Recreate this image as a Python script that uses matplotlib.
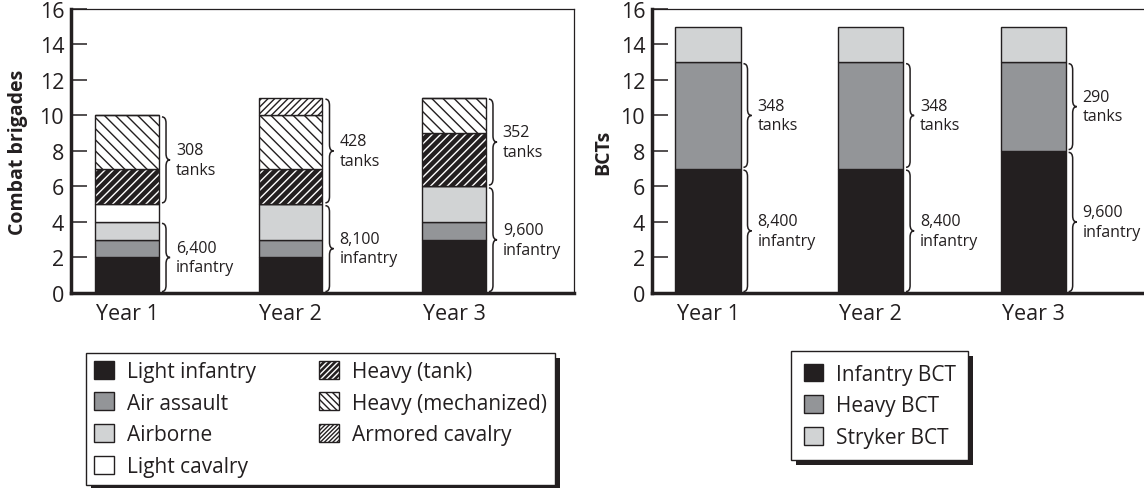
import matplotlib
matplotlib.use("Agg")
import matplotlib.pyplot as plt
from matplotlib.path import Path
from matplotlib.patches import PathPatch, Patch, Rectangle
import numpy as np

plt.rcParams['font.family'] = ['Open Sans', 'DejaVu Sans']
plt.rcParams['hatch.linewidth'] = 1.0

DARK = '#231f20'
MID = '#939598'
LIGHT = '#d1d3d4'

years = ['Year 1', 'Year 2', 'Year 3']

# left chart: combat brigades
light_infantry = [2, 2, 3]
air_assault = [1, 1, 1]
airborne = [1, 2, 2]
light_cavalry = [1, 0, 0]
heavy_tank = [2, 2, 3]
heavy_mech = [3, 3, 2]
armored_cav = [0, 1, 0]
brig_infantry = ['6,400', '8,100', '9,600']
brig_tanks = ['308', '428', '352']

# right chart: BCTs
infantry_bct = [7, 7, 8]
heavy_bct = [6, 6, 5]
stryker_bct = [2, 2, 2]
bct_infantry = ['8,400', '8,400', '9,600']
bct_tanks = ['348', '348', '290']


def brace(ax, x0, y0, y1, w=0.05, r=0.35, gap=0.08):
    y0 += gap
    y1 -= gap
    xm = x0 + w / 2
    xt = x0 + w
    ym = (y0 + y1) / 2
    verts = [(x0, y0), (xm, y0), (xm, y0 + r), (xm, ym - r), (xm, ym), (xt, ym),
             (xm, ym), (xm, ym + r), (xm, y1 - r), (xm, y1), (x0, y1)]
    codes = [Path.MOVETO, Path.CURVE3, Path.CURVE3, Path.LINETO, Path.CURVE3, Path.CURVE3,
             Path.CURVE3, Path.CURVE3, Path.LINETO, Path.CURVE3, Path.CURVE3]
    ax.add_patch(PathPatch(Path(verts, codes), fill=False, ec=DARK, lw=1.1, clip_on=False))


def style_axes(ax, xlim):
    ax.set_xlim(*xlim)
    ax.set_ylim(0, 16)
    ax.set_yticks(range(0, 17, 2))
    ax.set_xticks(range(3))
    ax.set_xticklabels(years)
    ax.tick_params(axis='y', direction='in', length=11.5, width=1.1, pad=5, labelsize=15.5, color=DARK, labelcolor=DARK)
    ax.tick_params(axis='x', length=0, pad=7, labelsize=15.5, labelcolor=DARK)
    for s in ['left', 'bottom']:
        ax.spines[s].set_linewidth(2.5)
    for s in ['top', 'right']:
        ax.spines[s].set_linewidth(0.9)
    for s in ax.spines.values():
        s.set_color(DARK)


fig = plt.figure(figsize=(11.44, 4.89), dpi=100)
ax1 = fig.add_axes([0.0621, 0.3988, 0.4397, 0.5808])
ax2 = fig.add_axes([0.5700, 0.3988, 0.4397, 0.5808])

x = np.arange(3)
bw = 0.39

# left stacked bars
bottom = np.zeros(3)
plain = [(light_infantry, DARK), (air_assault, MID), (airborne, LIGHT), (light_cavalry, 'white')]
for vals, col in plain:
    ax1.bar(x, vals, bw, bottom=bottom, color=col, edgecolor=DARK, lw=1)
    bottom += vals
# heavy (tank): dark with white hatch
ax1.bar(x, heavy_tank, bw, bottom=bottom, color=DARK, edgecolor='white', hatch='////', lw=0)
ax1.bar(x, heavy_tank, bw, bottom=bottom, fill=False, edgecolor=DARK, lw=1)
bottom += heavy_tank
ax1.bar(x, heavy_mech, bw, bottom=bottom, color='white', edgecolor=DARK, hatch='\\\\\\', lw=1)
bottom += heavy_mech
ax1.bar(x, armored_cav, bw, bottom=bottom, color='white', edgecolor=DARK, hatch='/////', lw=1)
bottom += armored_cav

inf_top = np.array(light_infantry) + np.array(air_assault) + np.array(airborne)
tank_bot = inf_top + np.array(light_cavalry)
for i in range(3):
    xr = x[i] + bw / 2 + 0.018
    brace(ax1, xr, 0, inf_top[i])
    brace(ax1, xr, tank_bot[i], bottom[i])
    ax1.text(xr + 0.085, inf_top[i] / 2, brig_infantry[i] + '\ninfantry', fontsize=11.5,
             va='center', ha='left', color=DARK, linespacing=1.3)
    ax1.text(xr + 0.085, (tank_bot[i] + bottom[i]) / 2, brig_tanks[i] + '\ntanks', fontsize=11.5,
             va='center', ha='left', color=DARK, linespacing=1.3)

style_axes(ax1, (-0.343, 2.734))
ax1.set_ylabel('Combat brigades', fontsize=14, fontweight='bold', color=DARK)
ax1.yaxis.label.set_va('center')
ax1.yaxis.set_label_coords(-0.105, 0.5)

# right stacked bars
bw2 = 0.40
b2 = np.zeros(3)
for vals, col in [(infantry_bct, DARK), (heavy_bct, MID), (stryker_bct, LIGHT)]:
    ax2.bar(x, vals, bw2, bottom=b2, color=col, edgecolor=DARK, lw=1)
    b2 += vals

for i in range(3):
    xr = x[i] + bw2 / 2 + 0.018
    ib = infantry_bct[i]
    hb = infantry_bct[i] + heavy_bct[i]
    brace(ax2, xr, 0, ib)
    brace(ax2, xr, ib, hb)
    ax2.text(xr + 0.085, ib / 2, bct_infantry[i] + '\ninfantry', fontsize=11.5,
             va='center', ha='left', color=DARK, linespacing=1.3, clip_on=False)
    ax2.text(xr + 0.085, (ib + hb) / 2, bct_tanks[i] + '\ntanks', fontsize=11.5,
             va='center', ha='left', color=DARK, linespacing=1.3)

style_axes(ax2, (-0.344, 2.75))
ax2.spines['right'].set_visible(False)
ax2.set_ylabel('BCTs', fontsize=14, fontweight='bold', color=DARK)
ax2.yaxis.label.set_va('center')
ax2.yaxis.set_label_coords(-0.097, 0.5)

# legends
def tank_handle():
    return (Patch(fc=DARK, ec='white', hatch='//////', lw=0), Patch(fill=False, ec=DARK, lw=1))

h1 = [Patch(fc=DARK, ec=DARK, lw=1), Patch(fc=MID, ec=DARK, lw=1), Patch(fc=LIGHT, ec=DARK, lw=1),
      Patch(fc='white', ec=DARK, lw=1), tank_handle(),
      Patch(fc='white', ec=DARK, hatch='\\\\\\\\\\', lw=1), Patch(fc='white', ec=DARK, hatch='////////', lw=1)]
l1 = ['Light infantry', 'Air assault', 'Airborne', 'Light cavalry',
      'Heavy (tank)', 'Heavy (mechanized)', 'Armored cavalry']
leg_kw = dict(fancybox=False, frameon=True, edgecolor=DARK, framealpha=1, fontsize=15,
              handlelength=0.95, handleheight=0.95, handletextpad=0.6, borderaxespad=0,
              labelspacing=0.5)
leg1 = fig.legend(h1, l1, ncol=2, loc='upper left', mode='expand',
                  bbox_to_anchor=(86 / 1144, 1 - 354 / 489, 469 / 1144, 0.001),
                  columnspacing=1.0, borderpad=0.4, **leg_kw)
h2 = [Patch(fc=DARK, ec=DARK, lw=1), Patch(fc=MID, ec=DARK, lw=1), Patch(fc=LIGHT, ec=DARK, lw=1)]
l2 = ['Infantry BCT', 'Heavy BCT', 'Stryker BCT']
leg2 = fig.legend(h2, l2, loc='upper left', bbox_to_anchor=(791 / 1144, 1 - 352 / 489),
                  borderpad=0.6, **leg_kw)
for leg in (leg1, leg2):
    for t in leg.get_texts():
        t.set_color(DARK)
    leg.get_frame().set_linewidth(1.0)

fig.canvas.draw()
for leg in (leg1, leg2):
    bb = leg.get_window_extent().transformed(fig.transFigure.inverted())
    dx, dy = 5 / 1144, 5 / 489
    fig.patches.append(Rectangle((bb.x0 + dx, bb.y0 - dy), bb.width, bb.height,
                                 transform=fig.transFigure, fc=DARK, ec='none', zorder=0))
    leg.set_zorder(5)

fig.savefig('out.png', dpi=100)
